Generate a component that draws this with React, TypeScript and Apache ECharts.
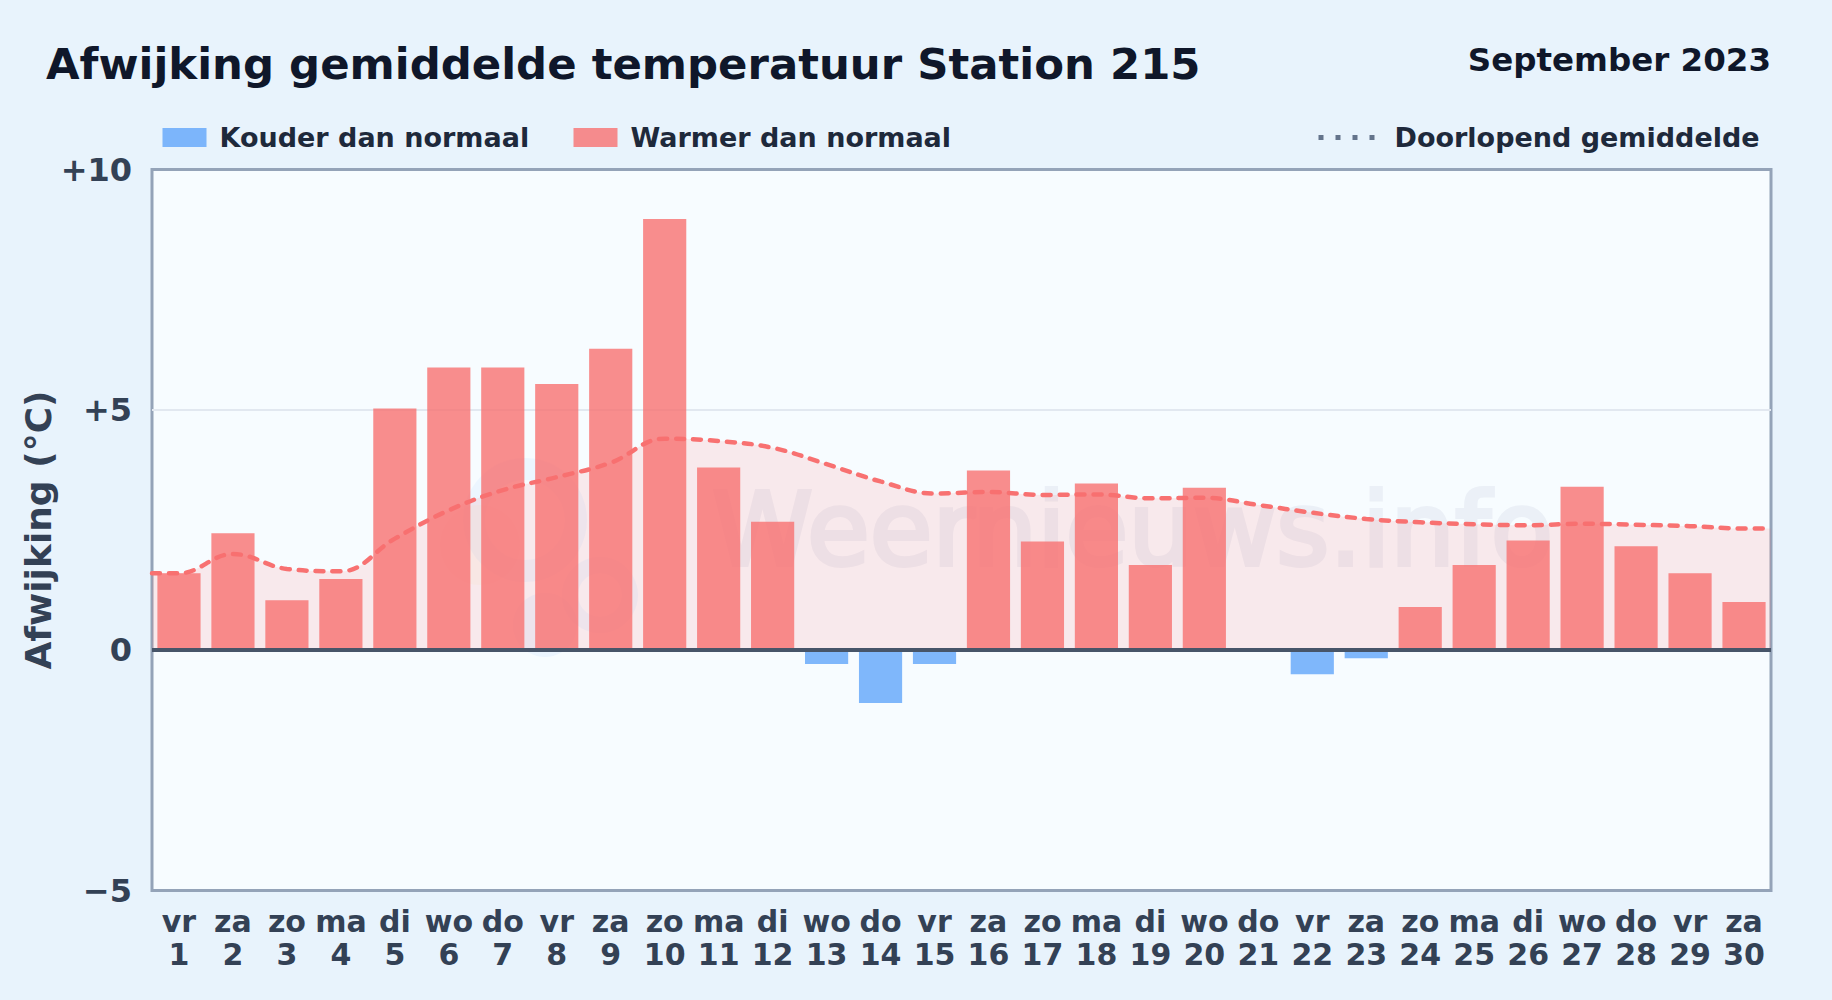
import React, { useEffect, useRef } from "react";
import * as echarts from "echarts";

const FONT = "'DejaVu Sans', sans-serif";
const weekdays = ["vr","za","zo","ma","di","wo","do","vr","za","zo","ma","di","wo","do","vr","za","zo","ma","di","wo","do","vr","za","zo","ma","di","wo","do","vr","za"];
const days = [1,2,3,4,5,6,7,8,9,10,11,12,13,14,15,16,17,18,19,20,21,22,23,24,25,26,27,28,29,30];
const warmer = [1.6,2.43,1.04,1.48,5.03,5.88,5.88,5.54,6.27,8.97,3.8,2.67,null,null,null,3.74,2.26,3.47,1.77,3.38,null,null,null,0.9,1.77,2.28,3.4,2.16,1.6,1.0];
const kouder = [null,null,null,null,null,null,null,null,null,null,null,null,-0.29,-1.1,-0.29,null,null,null,null,null,null,-0.5,-0.17,null,null,null,null,null,null,null];
const runningMean = [1.6,2.0,1.69,1.64,2.32,2.91,3.33,3.6,3.9,4.4,4.35,4.21,3.87,3.51,3.26,3.29,3.23,3.24,3.16,3.17,3.02,2.86,2.73,2.66,2.62,2.6,2.63,2.61,2.58,2.53];
const yTicks: Record<string, string> = { "10": "+10", "5": "+5", "0": "0", "-5": "−5" };

const meanPoints = [
  [0, runningMean[0]],
  ...runningMean.map((v, i) => [days[i] - 0.5, v]),
  [days.length, runningMean[runningMean.length - 1]],
];

export default function App() {
  const ref = useRef<HTMLDivElement>(null);
  useEffect(() => {
    const chart = echarts.init(ref.current!, null, { renderer: "svg" });
    const legendText = { fontFamily: FONT, fontWeight: "bold", fontSize: 27, color: "#1e293b" };
    chart.setOption({
      animation: false,
      backgroundColor: "#e8f3fc",
      textStyle: { fontFamily: FONT },
      title: [
        { text: "Afwijking gemiddelde temperatuur Station 215", left: 41, top: 37, textStyle: { fontFamily: FONT, fontWeight: "bold", fontSize: 43.4, color: "#0f172a" } },
        { text: "September 2023", right: 56, top: 38, textStyle: { fontFamily: FONT, fontWeight: "bold", fontSize: 32.5, color: "#0f172a" } },
      ],
      legend: [
        { data: ["Kouder dan normaal"], left: 157.5, top: 119, icon: "rect", itemWidth: 44, itemHeight: 19, textStyle: { ...legendText, padding: [0, 0, 0, 8] } },
        { data: ["Warmer dan normaal"], left: 568.5, top: 119, icon: "rect", itemWidth: 44, itemHeight: 19, textStyle: { ...legendText, padding: [0, 0, 0, 8] } },
        { data: [{ name: "Doorlopend gemiddelde", icon: "path://M0 0h5v5h-5z M17 0h5v5h-5z M34 0h5v5h-5z M51 0h5v5h-5z", itemStyle: { color: "#64748b" } }], left: 1313.5, top: 119, itemWidth: 56, itemHeight: 5, textStyle: { ...legendText, padding: [0, 0, 0, 15] } },
      ],
      grid: { left: 152, top: 169.5, right: 61, bottom: 109.5, show: true, backgroundColor: "#f7fcff", borderColor: "#94a3b8", borderWidth: 3, z: 0 },
      xAxis: [
        {
          type: "category",
          data: weekdays.map((d, i) => `${d}\n${days[i]}`),
          axisLine: { show: false },
          axisTick: { show: false },
          splitLine: { show: false },
          axisLabel: { interval: 0, margin: 14, fontFamily: FONT, fontWeight: "bold", fontSize: 30, lineHeight: 33, color: "#334155" },
        },
        { type: "value", min: 0, max: days.length, show: false },
      ],
      yAxis: {
        type: "value",
        min: -5,
        max: 10,
        interval: 5,
        name: "Afwijking (°C)",
        nameLocation: "middle",
        nameRotate: 90,
        nameGap: 114,
        nameMoveOverlap: false,
        nameTextStyle: { fontFamily: FONT, fontWeight: "bold", fontSize: 36, color: "#334155", verticalAlign: "middle" },
        axisLine: { show: false },
        axisTick: { show: false },
        splitLine: { show: true, showMinLine: false, showMaxLine: false, lineStyle: { color: "#e2e8f0", width: 2 } },
        axisLabel: { margin: 20, fontFamily: FONT, fontWeight: "bold", fontSize: 32, color: "#334155", formatter: (v: number) => yTicks[String(v)] ?? String(v) },
      },
      graphic: [
        { type: "text", silent: true, z: 1, x: 712, y: 478, style: { text: "Weernieuws.info", fontFamily: FONT, fontSize: 102, fill: "#ebf0f7", stroke: "#ebf0f7", lineWidth: 4 } },
        { type: "ring", silent: true, z: 1, shape: { cx: 525, cy: 520, r: 62, r0: 40 }, style: { fill: "#60a5fa", opacity: 0.07 } },
        { type: "ring", silent: true, z: 1, shape: { cx: 600, cy: 595, r: 38, r0: 22 }, style: { fill: "#60a5fa", opacity: 0.07 } },
        { type: "circle", silent: true, z: 1, shape: { cx: 545, cy: 625, r: 32 }, style: { fill: "#60a5fa", opacity: 0.08 } },
        { type: "circle", silent: true, z: 1, shape: { cx: 480, cy: 545, r: 40 }, style: { fill: "#fde68a", opacity: 0.08 } },
      ],
      series: [
        {
          name: "Doorlopend gemiddelde",
          type: "line",
          xAxisIndex: 1,
          z: 2,
          data: meanPoints,
          smooth: 0.4,
          symbol: "none",
          lineStyle: { color: "#f87171", width: 4.5, type: [8, 9], cap: "round" },
          areaStyle: { color: "#ff6b6b", opacity: 0.13, origin: 0 },
        },
        {
          name: "Kouder dan normaal",
          type: "bar",
          z: 3,
          barWidth: "80%",
          barGap: "-100%",
          data: kouder,
          itemStyle: { color: "#60a5fa", opacity: 0.8 },
        },
        {
          name: "Warmer dan normaal",
          type: "bar",
          z: 3,
          barWidth: "80%",
          data: warmer,
          itemStyle: { color: "#f87171", opacity: 0.8 },
          markLine: { silent: true, symbol: "none", label: { show: false }, data: [{ yAxis: 0 }], lineStyle: { color: "#475569", width: 4, type: "solid" } },
        },
      ],
    });
    return () => chart.dispose();
  }, []);
  return <div ref={ref} style={{ position: "fixed", left: 0, top: 0, width: 1832, height: 1000 }} />;
}
